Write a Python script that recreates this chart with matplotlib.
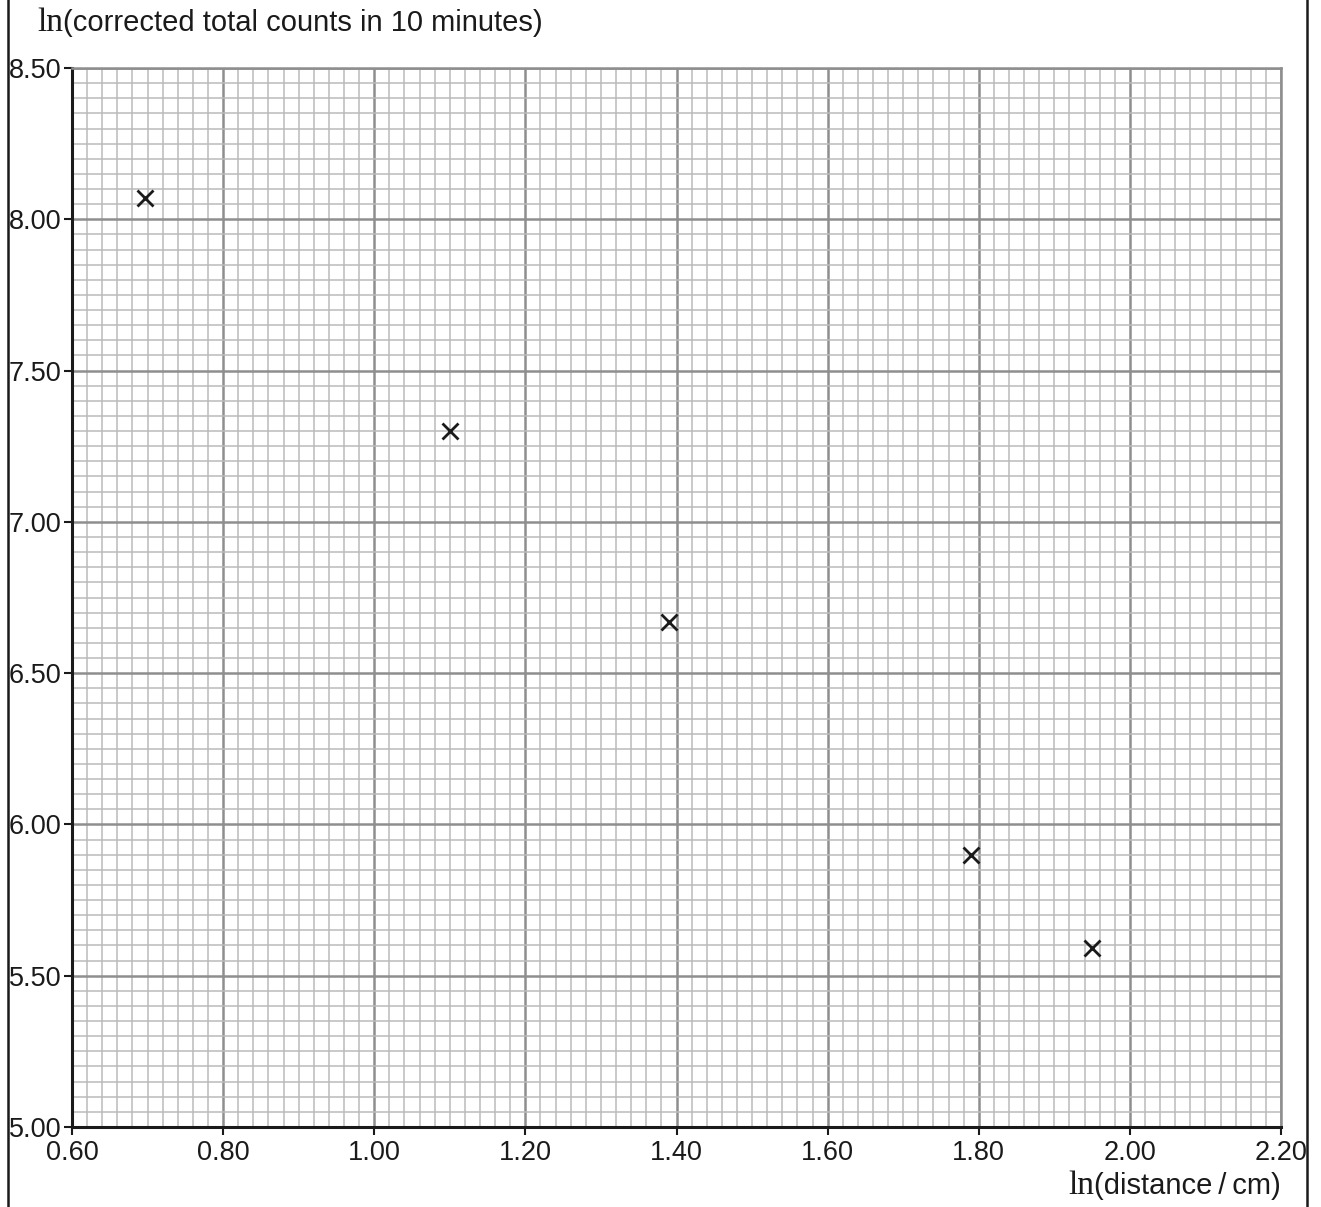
import matplotlib
matplotlib.use("Agg")
import matplotlib.pyplot as plt
from matplotlib.ticker import MultipleLocator, FormatStrFormatter
from matplotlib.lines import Line2D

# Data
ln_distance = [0.696, 1.10, 1.39, 1.79, 1.95]
ln_counts = [8.07, 7.30, 6.67, 5.90, 5.59]

x_label = "(distance\u2009/\u2009cm)"
y_label = "(corrected total counts in 10 minutes)"

W, H = 1321, 1207
fig = plt.figure(figsize=(W / 100, H / 100), dpi=100)
ax = fig.add_axes([72 / W, 1 - 1127 / H, (1281 - 72) / W, (1127 - 68) / H])

ax.set_xlim(0.60, 2.20)
ax.set_ylim(5.00, 8.50)
ax.xaxis.set_major_locator(MultipleLocator(0.2))
ax.xaxis.set_minor_locator(MultipleLocator(0.02))
ax.yaxis.set_major_locator(MultipleLocator(0.5))
ax.yaxis.set_minor_locator(MultipleLocator(0.05))
ax.xaxis.set_major_formatter(FormatStrFormatter("%.2f"))
ax.yaxis.set_major_formatter(FormatStrFormatter("%.2f"))

ax.grid(which="minor", color="#bababa", linewidth=1.1, zorder=0)
ax.grid(which="major", color="#8e8e8e", linewidth=1.8, zorder=0)
ax.set_axisbelow(True)

for s in ["top", "right"]:
    ax.spines[s].set_color("#8e8e8e")
    ax.spines[s].set_linewidth(1.8)
for s in ["left", "bottom"]:
    ax.spines[s].set_color("#1a1a1a")
    ax.spines[s].set_linewidth(2.2)

ax.tick_params(which="major", direction="out", length=5.5, width=1.5,
               color="#1a1a1a", labelsize=19.5, pad=2)
ax.tick_params(axis="x", which="major", pad=4)
ax.tick_params(which="minor", length=0)
for lab in ax.get_xticklabels() + ax.get_yticklabels():
    lab.set_fontfamily("Liberation Sans")
    lab.set_color("#1a1a1a")

ax.plot(ln_distance, ln_counts, linestyle="none", marker="x",
        markersize=11, markeredgewidth=2.0, color="#1a1a1a", zorder=5)

# figure border lines
fig.add_artist(Line2D([7.5 / W, 7.5 / W], [0, 1], transform=fig.transFigure,
                      color="#1a1a1a", linewidth=1.8))
fig.add_artist(Line2D([1307 / W, 1307 / W], [0, 1], transform=fig.transFigure,
                      color="#1a1a1a", linewidth=1.8))

fig.canvas.draw()
renderer = fig.canvas.get_renderer()

# y-axis label at top-left
t1 = fig.text(37 / W, 1 - 31 / H, "ln", family="Liberation Serif", fontsize=24,
              color="#1a1a1a", va="baseline", ha="left")
bb = t1.get_window_extent(renderer)
fig.text(bb.x1 / W, 1 - 31 / H, y_label, family=["Liberation Sans", "DejaVu Sans"],
         fontsize=21, color="#1a1a1a", va="baseline", ha="left")

# x-axis label at bottom-right
t2 = fig.text(1281 / W, 1 - 1194 / H, x_label, family=["Liberation Sans", "DejaVu Sans"],
              fontsize=21, color="#1a1a1a", va="baseline", ha="right")
bb2 = t2.get_window_extent(renderer)
fig.text(bb2.x0 / W, 1 - 1194 / H, "ln", family="Liberation Serif", fontsize=24,
         color="#1a1a1a", va="baseline", ha="right")

fig.savefig("out.png", dpi=100)
